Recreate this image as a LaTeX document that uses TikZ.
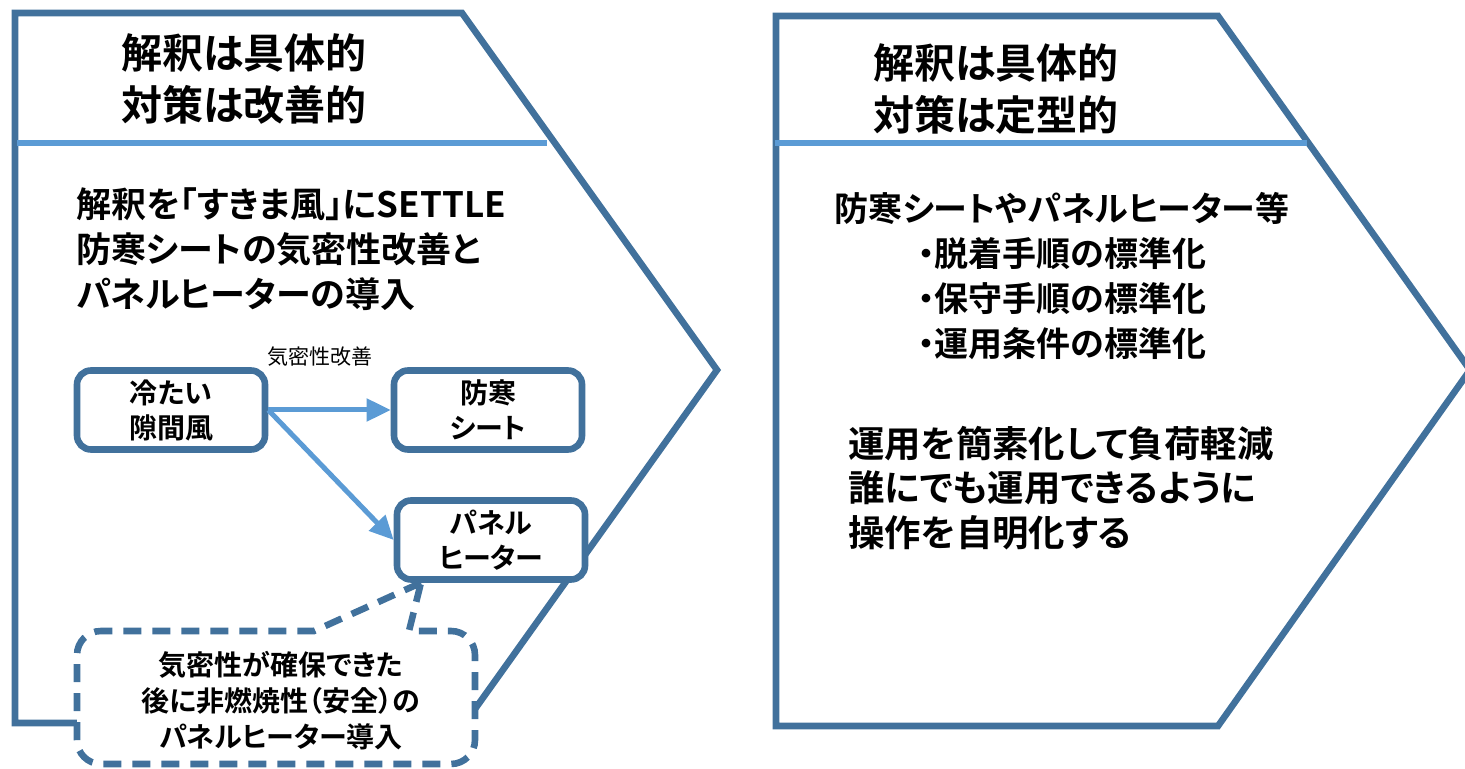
\documentclass[tikz,border=0pt]{standalone}
\usepackage{fontspec}
\setmainfont{Noto Sans CJK JP}[BoldFont={Noto Sans CJK JP Bold}, RawFeature=+palt]
\usepackage{tikz}
\usetikzlibrary{arrows.meta, calc}
\definecolor{frameblue}{HTML}{41719C}
\definecolor{lineblue}{HTML}{5B9BD5}

\begin{document}
\begin{tikzpicture}[x=0.5pt, y=-0.5pt,
    chevron/.style={draw=frameblue, line width=3.3pt, line join=miter},
    divider/.style={draw=lineblue, line width=3.3pt},
    item/.style={draw=frameblue, line width=3.3pt, fill=white, rounded corners=7pt,
        minimum width=94pt, minimum height=39.5pt, inner sep=0pt, align=center,
        font=\bfseries\fontsize{14}{17.5}\selectfont},
    flow/.style={draw=lineblue, line width=2.5pt, -{Triangle[length=12pt, width=11pt]}},
    callout/.style={draw=frameblue, line width=3.3pt, fill=white, dash pattern=on 9pt off 5.5pt},
    txt/.style={inner sep=0pt}]
\useasboundingbox (0,0) rectangle (1465,769);

\draw[chevron] (15,13) -- (462,13) -- (717,370) -- (465,723) -- (15,723) -- cycle;
\draw[chevron] (776,16) -- (1218,16) -- (1470,370) -- (1218,726) -- (776,726) -- cycle;
\draw[divider] (17,143) -- (547,143);
\draw[divider] (775,143) -- (1307,143);

\node[txt, anchor=west, align=left, font=\bfseries\fontsize{20.5}{26}\selectfont] (headL) at (121,79) {解釈は具体的\\対策は改善的};
\node[txt, anchor=west, align=left, font=\bfseries\fontsize{20.5}{26}\selectfont] (headR) at (873,89) {解釈は具体的\\対策は定型的};

\node[txt, anchor=west, align=left, font=\bfseries\fontsize{17.5}{22.5}\selectfont] (bodyL) at (76,249) {解釈を「すきま風」にSETTLE\\防寒シートの気密性改善と\\パネルヒーターの導入};
\node[txt, align=center, font=\bfseries\fontsize{17}{22.5}\selectfont] (stdR) at (1062,276) {防寒シートやパネルヒーター等\\・脱着手順の標準化\\・保守手順の標準化\\・運用条件の標準化};
\node[txt, anchor=west, align=left, font=\bfseries\fontsize{18.2}{22.25}\selectfont] (goalR) at (848,488) {運用を簡素化して負荷軽減\\誰にでも運用できるように\\操作を自明化する};

\node[item] (cold) at (171,410) {冷たい\\隙間風};
\node[item] (sheet) at (488,410) {防寒\\シート};
\node[item] (heater) at (491,540) {パネル\\ヒーター};
\node[txt, font=\fontsize{10.5}{12}\selectfont] (seal) at (320,357) {気密性改善};

\draw[flow] (cold.east) -- (sheet.west);
\draw[flow] (cold.east) -- (heater.west);

\coordinate (hook) at ($(heater.south west)!0.14!(heater.south east)$);
\draw[callout] (hook) -- (314,631) [rounded corners=12pt] -- (77,631) -- (77,764) -- (475,764) -- (475,631) [sharp corners] -- (409,631) -- cycle;
\node[txt, align=center, font=\bfseries\fontsize{14}{18}\selectfont] (note) at (281,701) {気密性が確保できた\\後に非燃焼性（安全）の\\パネルヒーター導入};
\end{tikzpicture}
\end{document}
